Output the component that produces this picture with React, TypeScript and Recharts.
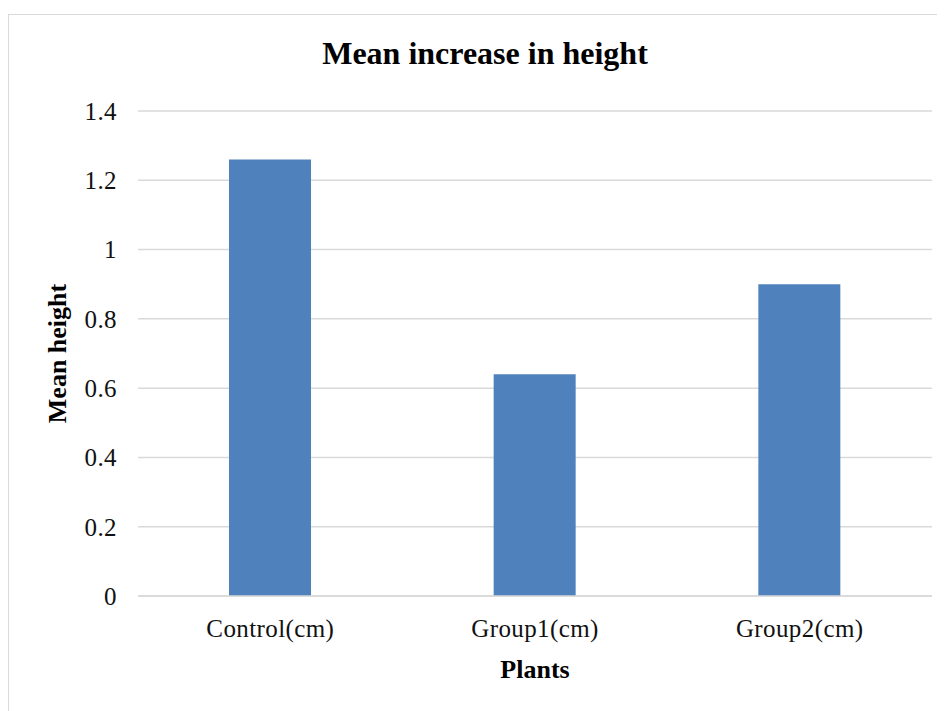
import { BarChart, Bar, XAxis, YAxis, CartesianGrid } from 'recharts'

const plants = ['Control(cm)', 'Group1(cm)', 'Group2(cm)']
const meanHeights = [1.26, 0.64, 0.9]
const yTicks = [0, 0.2, 0.4, 0.6, 0.8, 1, 1.2, 1.4]

const data = plants.map((name, i) => ({ name, value: meanHeights[i] }))

const FONT = '"Liberation Serif", "Times New Roman", serif'

export default function App() {
  return (
    <div
      style={{
        position: 'relative',
        marginTop: 6,
        width: 936,
        height: 697,
        borderLeft: '1px solid #d9d9d9',
        borderTop: '1px solid #d9d9d9',
        overflow: 'hidden',
        background: '#fff',
        fontFamily: FONT,
      }}
    >
      <div
        style={{
          position: 'absolute',
          left: 0,
          width: 952,
          top: 22,
          textAlign: 'center',
          fontSize: 32,
          lineHeight: '32px',
          fontWeight: 'bold',
          color: '#000',
        }}
      >
        Mean increase in height
      </div>
      <BarChart
        width={936}
        height={697}
        data={data}
        margin={{ top: 96, right: 13, bottom: 0, left: 0 }}
        barSize={82}
      >
        <CartesianGrid vertical={false} stroke="#d9d9d9" strokeWidth={1.5} />
        <XAxis
          dataKey="name"
          height={116}
          axisLine={{ stroke: '#d9d9d9', strokeWidth: 1.5 }}
          tickLine={false}
          tickMargin={17}
          tick={{ fontSize: 25, fill: '#111', fontFamily: FONT, letterSpacing: 0.4 }}
          label={{
            value: 'Plants',
            position: 'center',
            dy: 15,
            style: { fontSize: 26, fontWeight: 'bold', fill: '#000', fontFamily: FONT },
          }}
        />
        <YAxis
          width={129}
          domain={[0, 1.4]}
          ticks={yTicks}
          axisLine={false}
          tickLine={false}
          tickMargin={15}
          tick={{ fontSize: 25, fill: '#111', fontFamily: FONT, letterSpacing: 0.4 }}
          label={{
            value: 'Mean height',
            angle: -90,
            position: 'center',
            dx: -17,
            style: { fontSize: 26, fontWeight: 'bold', fill: '#000', fontFamily: FONT },
          }}
        />
        <Bar dataKey="value" fill="#4f81bd" isAnimationActive={false} />
      </BarChart>
    </div>
  )
}
